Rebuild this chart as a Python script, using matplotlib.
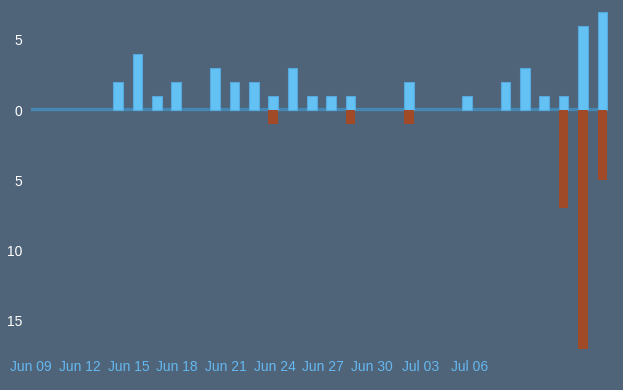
import numpy as np
import matplotlib
matplotlib.use("Agg")
import matplotlib.pyplot as plt
from matplotlib.ticker import FuncFormatter

# daily counts, Jun 09 .. Jul 08
days = np.arange(30)
pos_vals = [0, 0, 0, 0, 2, 4, 1, 2, 0, 3, 2, 2, 1, 3, 1,
            1, 1, 0, 0, 2, 0, 0, 1, 0, 2, 3, 1, 1, 6, 7]
neg_vals = [0, 0, 0, 0, 0, 0, 0, 0, 0, 0, 0, 0, -1, 0, 0,
            0, -1, 0, 0, -1, 0, 0, 0, 0, 0, 0, 0, -7, -17, -5]
xlabels = ["Jun 09", "Jun 12", "Jun 15", "Jun 18", "Jun 21",
           "Jun 24", "Jun 27", "Jun 30", "Jul 03", "Jul 06"]
yticks = [5, 0, -5, -10, -15]

bg = "#4f6479"
blue = "#64c1f4"
orange = "#a04a28"

plt.rcParams['font.family'] = ['Liberation Sans', 'DejaVu Sans']

fig = plt.figure(figsize=(6.23, 3.9), dpi=100, facecolor=bg)
ax = fig.add_axes([31/623, 38/390, 577/623, 352/390], facecolor=bg)

ax.axhline(0.1, color="#4487b4", lw=2.4, zorder=1)
ax.bar(days, pos_vals, width=0.5, color=blue, edgecolor="#55a9dc",
       linewidth=[0.8 if v else 0 for v in pos_vals], zorder=2)
ax.bar(days, neg_vals, width=0.5, color=orange, linewidth=0, zorder=2)

ax.set_xlim(-0.26, 29.29)
ax.set_ylim(-17.22, 7.83)

# tick labels sit on their own spacing, not on the bars
ax.set_xticks(-0.5 + 2.514 * np.arange(len(xlabels)))
ax.set_xticklabels(xlabels)
ax.set_yticks(yticks)
ax.yaxis.set_major_formatter(FuncFormatter(lambda v, p: f"{abs(v):g}"))

ax.tick_params(axis="x", length=0, pad=5.5, colors="#64b8f0", labelsize=10)
ax.tick_params(axis="y", length=0, pad=6, colors="white", labelsize=10)
for s in ax.spines.values():
    s.set_visible(False)

fig.savefig("out.png", dpi=100, facecolor=bg)
